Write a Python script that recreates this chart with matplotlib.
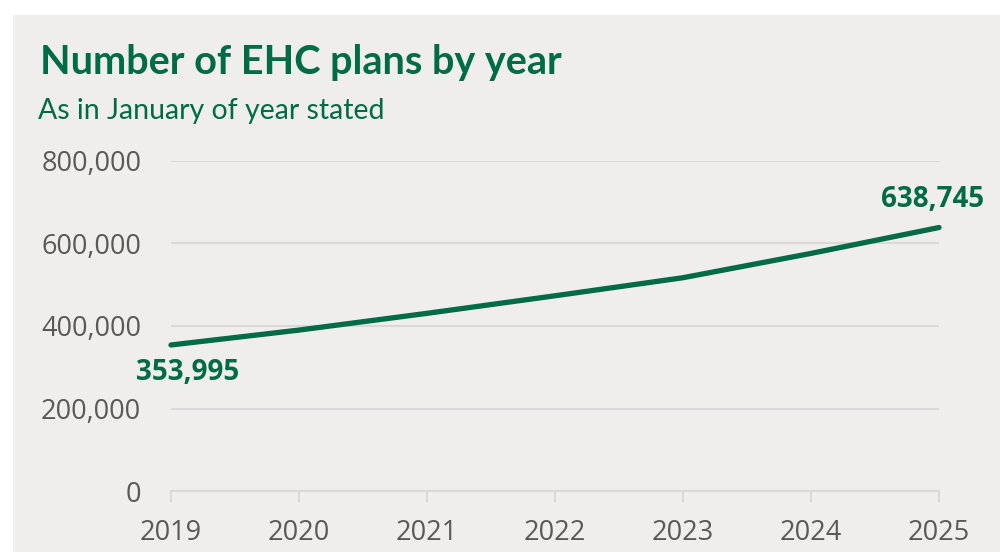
import matplotlib.pyplot as plt
from matplotlib.patches import Rectangle
from matplotlib.ticker import FuncFormatter

# data
years = [2019, 2020, 2021, 2022, 2023, 2024, 2025]
plans = [353995, 390109, 430697, 473255, 517049, 575973, 638745]
yticks = [0, 200000, 400000, 600000, 800000]

green = '#006b47'
grey_txt = '#595959'
bg = '#efeeec'

plt.rcParams['font.family'] = ['Open Sans', 'DejaVu Sans']

fig = plt.figure(figsize=(10, 5.52), dpi=100, facecolor='white')
fig.add_artist(Rectangle((13/1000, 0), 1, 1 - 15/552, transform=fig.transFigure,
                         facecolor=bg, edgecolor='none', zorder=-5))

ax = fig.add_axes([0.171, 1 - 491/552, 0.939 - 0.171, (491 - 161)/552])
ax.set_zorder(2)
ax.set_facecolor('none')
ax.plot(years, plans, color=green, lw=3.8, solid_capstyle='round', clip_on=False, zorder=3)

ax.set_xlim(2019, 2025)
ax.set_ylim(0, 800000)
ax.set_yticks(yticks)
ax.yaxis.set_major_formatter(FuncFormatter(lambda v, p: f'{int(v):,}'))
ax.set_xticks(years)
ax.grid(axis='y', color='#d9d9d9', lw=1.5)
ax.set_axisbelow(True)
for s in ['top', 'right', 'left']:
    ax.spines[s].set_visible(False)
ax.spines['bottom'].set_color('#d9d9d9')
ax.spines['bottom'].set_linewidth(1.5)
ax.tick_params(axis='y', length=0, pad=21.5, labelsize=19.5, labelcolor=grey_txt)
ax.tick_params(axis='x', length=8, width=1.5, color='#d9d9d9', pad=12, labelsize=19.5, labelcolor=grey_txt)

ax.annotate(f'{plans[0]:,}', (years[0], plans[0]), xytext=(12, -20), textcoords='offset points',
            ha='center', va='center', fontsize=20, fontweight='bold', color=green)
ax.annotate(f'{plans[-1]:,}', (years[-1], plans[-1]), xytext=(-4.3, 20), textcoords='offset points',
            ha='center', va='center', fontsize=20, fontweight='bold', color=green)

fig.text(40/1000, 1 - 62/552, 'Number of EHC plans by year', fontsize=28.5, fontweight='bold',
         color=green, va='center', ha='left', family=['Lato', 'DejaVu Sans'])
fig.text(38/1000, 1 - 111/552, 'As in January of year stated', fontsize=20.5,
         color=green, va='center', ha='left', family=['Lato', 'DejaVu Sans'])

fig.savefig('out.png', dpi=100, facecolor='white')
